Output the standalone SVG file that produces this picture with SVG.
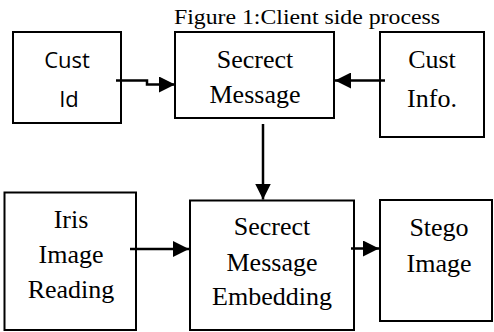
<svg xmlns="http://www.w3.org/2000/svg" width="494" height="332" viewBox="0 0 494 332">
  <style>
    .box { fill: #ffffff; stroke: #000000; stroke-width: 2; }
    .conn { fill: none; stroke: #000000; stroke-width: 2.5; marker-end: url(#arrow); }
    .lbl { font-family: "Liberation Serif", "Times New Roman", serif; font-size: 26px; text-anchor: middle; fill: #000000; }
    .lbl-s { font-family: "Open Sans", "DejaVu Sans", sans-serif; font-size: 22px; text-anchor: middle; fill: #000000; }
    .title { font-family: "Liberation Serif", "Times New Roman", serif; font-size: 22px; fill: #000000; }
  </style>
  <defs>
    <marker id="arrow" markerUnits="userSpaceOnUse" markerWidth="16" markerHeight="16" refX="16" refY="8" orient="auto">
      <path d="M0,0 L16,8 L0,16 z" fill="#000000"/>
    </marker>
  </defs>
  <rect width="494" height="332" fill="#ffffff"/>

  <text class="title" x="174" y="24" textLength="266" lengthAdjust="spacingAndGlyphs">Figure 1:Client side process</text>

  <g id="cust-id">
    <rect class="box" x="13" y="32" width="108" height="91"/>
    <text class="lbl-s" x="67" y="68">Cust</text>
    <text class="lbl-s" x="69" y="107">Id</text>
  </g>

  <g id="secret-message">
    <rect class="box" x="175" y="32" width="159" height="86"/>
    <text class="lbl" x="255" y="68">Secrect</text>
    <text class="lbl" x="255" y="102.5">Message</text>
  </g>

  <g id="cust-info">
    <rect class="box" x="380" y="32" width="104" height="105"/>
    <text class="lbl" x="432" y="68">Cust</text>
    <text class="lbl" x="432" y="107">Info.</text>
  </g>

  <g id="iris-image-reading">
    <rect class="box" x="4.5" y="192.5" width="131.5" height="137.5"/>
    <text class="lbl" x="71" y="227.5">Iris</text>
    <text class="lbl" x="71" y="262.5">Image</text>
    <text class="lbl" x="71" y="297.5">Reading</text>
  </g>

  <g id="message-embedding">
    <rect class="box" x="190" y="200.5" width="164" height="129.5"/>
    <text class="lbl" x="272" y="235">Secrect</text>
    <text class="lbl" x="272" y="270.5">Message</text>
    <text class="lbl" x="272" y="305">Embedding</text>
  </g>

  <g id="stego-image">
    <rect class="box" x="380" y="200" width="112" height="121"/>
    <text class="lbl" x="439" y="236">Stego</text>
    <text class="lbl" x="439" y="272">Image</text>
  </g>

  <g id="connectors">
    <polyline class="conn" points="116,80.5 147,80.5 147,84.5 175,84.5"/>
    <line class="conn" x1="385" y1="80.5" x2="335" y2="80.5"/>
    <line class="conn" x1="263" y1="124" x2="263" y2="199.5"/>
    <line class="conn" x1="130" y1="249" x2="189" y2="249"/>
    <line class="conn" x1="351" y1="248.5" x2="379" y2="248.5"/>
  </g>
</svg>
